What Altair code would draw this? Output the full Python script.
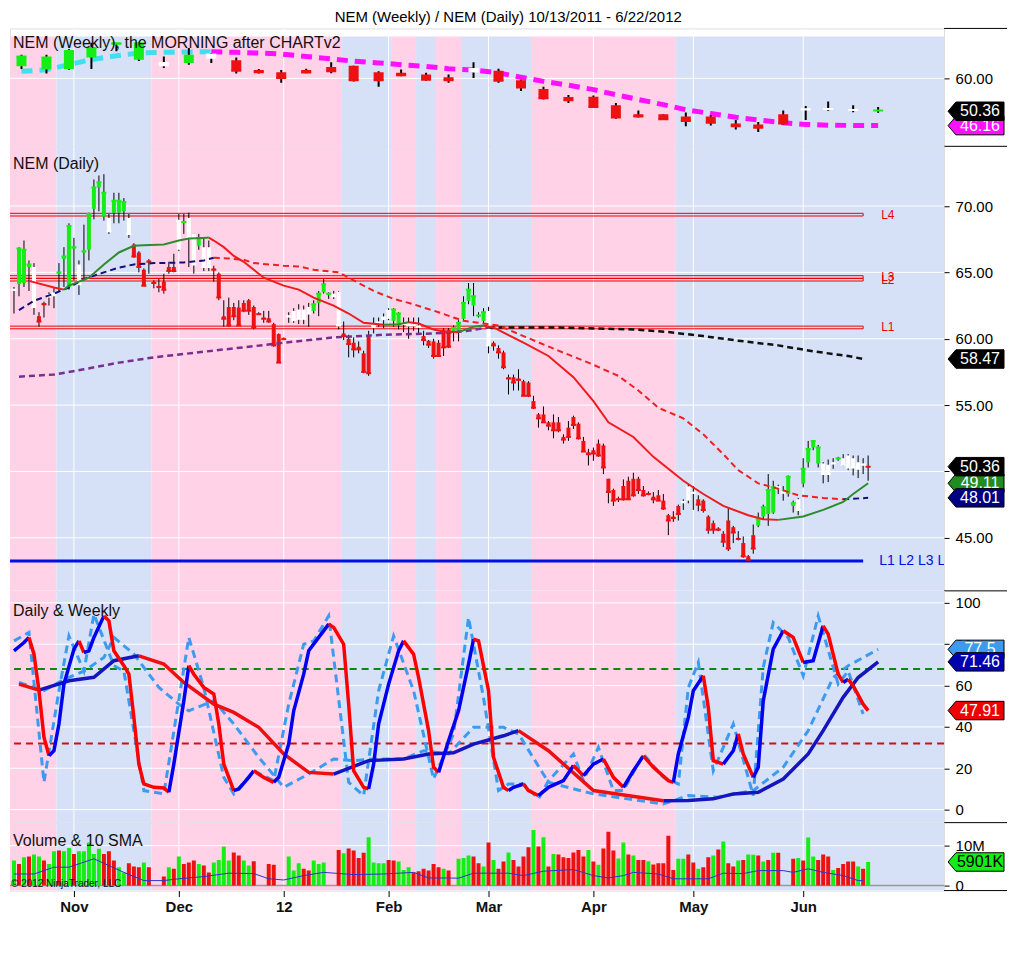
import altair as alt
import pandas as pd

FONT = "Liberation Sans"
TITLE = "NEM (Weekly) / NEM (Daily)  10/13/2011 - 6/22/2012"

# ---------------- daily bars (bar index 1..172) ----------------
d_idx = list(range(1, 173))
d_open = [63.6, 64.1, 64.2, 65.4, 65.4, 61.7, 62.7, 63.1, 63.2, 64.9,
          66.0, 63.9, 66.8, 65.6, 66.5, 66.7, 69.8, 71.4, 69.2, 69.1,
          69.5, 69.5, 69.6, 69.1, 67.1, 66.5, 65.2, 65.9, 64.3, 64.0,
          64.3, 65.4, 65.4, 66.7, 68.7, 69.1, 67.9, 67.0, 66.9, 66.9,
          65.3, 64.9, 61.7, 62.4, 62.4, 62.35, 62.7, 62.9, 62.4, 61.9,
          61.6, 61.55, 61.1, 60.35, 60.0, 61.6, 62.1, 62.2, 62.2, 62.4,
          62.1, 62.7, 63.5, 63.3, 63.4, 63.55, 60.4, 60.0, 59.7, 59.4,
          58.9, 60.2, 60.8, 61.3, 61.4, 61.5, 61.35, 61.0, 61.2, 61.2,
          61.1, 61.0, 60.2, 59.85, 59.8, 59.7, 60.7, 60.7, 60.5, 60.6,
          61.5, 62.85, 62.5, 61.7, 61.35, 62.1, 59.7, 59.3, 58.97, 57.1,
          57.1, 57.0, 56.8, 56.7, 55.3, 54.3, 54.3, 53.7, 53.7, 53.7,
          52.6, 53.3, 54.1, 53.6, 52.3, 51.45, 51.6, 52.1, 51.96, 49.45,
          48.6, 47.95, 48.9, 49.3, 49.45, 49.45, 48.6, 48.3, 48.1, 48.2,
          47.8, 46.7, 46.6, 47.4, 47.6, 47.8, 48.3, 47.9, 47.8, 46.6,
          46.1, 45.7, 45.3, 46.3, 45.8, 45.0, 44.6, 43.6, 45.2, 45.9,
          46.6, 46.8, 46.9, 48.7, 48.5, 48.3, 47.4, 47.9, 49.1, 50.7,
          51.8, 50.6, 50.6, 50.5, 50.7, 50.9, 51.0, 51.2, 51.0, 50.7,
          50.6, 50.4]
d_high = [63.9, 66.9, 67.4, 65.9, 65.7, 62.0, 62.8, 63.5, 63.9, 65.7,
          66.9, 68.7, 67.6, 65.9, 68.6, 69.5, 72.0, 72.3, 72.4, 69.4,
          71.0, 71.0, 70.6, 69.4, 67.2, 66.6, 65.3, 66.0, 64.4, 64.5,
          64.9, 65.8, 66.4, 69.4, 69.4, 69.5, 67.9, 67.9, 67.6, 67.4,
          65.5, 65.0, 62.9, 63.1, 62.7, 62.9, 62.9, 63.0, 62.5, 62.0,
          62.1, 62.1, 61.2, 60.4, 60.1, 62.0, 62.3, 62.6, 62.5, 62.7,
          62.9, 63.6, 64.5, 63.5, 63.6, 63.6, 61.3, 60.3, 60.1, 59.8,
          59.1, 60.6, 61.6, 61.6, 61.9, 62.3, 62.3, 62.0, 61.6, 61.6,
          61.6, 61.6, 60.6, 59.9, 60.0, 59.9, 60.8, 60.8, 61.0, 61.4,
          63.2, 64.2, 64.2, 62.0, 62.3, 62.4, 59.8, 59.5, 59.1, 57.3,
          57.3, 57.7, 56.9, 56.8, 55.7, 54.4, 54.9, 53.8, 54.3, 54.1,
          52.8, 53.8, 54.2, 53.7, 52.6, 51.7, 51.8, 52.4, 52.1, 49.45,
          48.7, 48.1, 49.4, 49.6, 49.9, 49.6, 48.9, 48.5, 48.45, 48.6,
          48.3, 46.8, 47.0, 47.5, 47.9, 49.0, 48.9, 48.2, 47.9, 46.7,
          46.3, 45.8, 45.5, 47.3, 45.9, 45.5, 45.1, 43.7, 46.0, 46.9,
          47.5, 49.8, 49.3, 49.0, 48.9, 49.7, 47.8, 48.0, 51.0, 52.3,
          52.3, 52.0, 50.7, 50.9, 51.0, 51.1, 51.3, 51.3, 51.2, 51.2,
          51.0, 51.2]
d_low = [61.9, 63.2, 63.9, 63.6, 61.8, 60.9, 61.6, 62.5, 62.3, 63.6,
         63.9, 63.7, 64.4, 63.3, 64.4, 65.9, 69.0, 69.6, 68.9, 67.9,
         68.7, 68.7, 68.9, 67.6, 66.1, 65.0, 64.0, 64.9, 63.8, 63.5,
         63.4, 64.9, 65.0, 66.6, 67.9, 65.4, 64.9, 66.7, 65.1, 65.1,
         64.3, 62.9, 60.9, 60.9, 61.4, 60.98, 62.0, 61.8, 60.7, 61.8,
         61.2, 61.2, 59.4, 58.2, 59.9, 61.2, 61.2, 61.1, 61.1, 60.9,
         61.9, 61.7, 63.4, 63.0, 63.0, 60.7, 59.9, 58.6, 58.6, 58.9,
         57.4, 57.2, 60.4, 60.9, 60.8, 61.4, 60.9, 60.7, 60.5, 60.0,
         60.6, 60.4, 59.5, 59.3, 58.5, 58.7, 58.7, 59.3, 59.8, 59.8,
         61.4, 62.6, 61.7, 61.6, 61.1, 58.9, 59.1, 58.5, 57.7, 55.8,
         56.1, 56.1, 55.7, 55.6, 54.7, 53.3, 53.7, 53.1, 52.5, 52.95,
         52.1, 52.3, 53.2, 52.4, 51.5, 50.45, 50.8, 51.1, 49.8, 47.6,
         47.4, 47.7, 47.8, 47.9, 48.1, 48.3, 48.1, 48.2, 47.6, 47.8,
         47.1, 45.2, 46.2, 46.3, 47.1, 47.6, 47.1, 47.0, 46.9, 45.3,
         45.3, 45.5, 44.3, 44.0, 44.6, 44.8, 43.5, 43.3, 43.8, 45.8,
         46.4, 45.9, 46.8, 48.3, 47.8, 48.1, 46.9, 46.7, 48.8, 50.3,
         51.6, 50.3, 49.1, 49.2, 50.2, 50.8, 50.4, 50.1, 49.7, 49.5,
         49.8, 49.3]
d_close = [63.7, 66.8, 66.7, 65.6, 62.4, 61.3, 62.6, 63.3, 63.4, 65.0,
           66.2, 68.5, 66.9, 64.1, 66.6, 69.4, 71.4, 71.8, 71.0, 68.1,
           70.4, 70.4, 70.3, 67.9, 66.2, 65.4, 64.0, 65.8, 64.2, 63.9,
           63.7, 65.1, 65.1, 68.9, 68.8, 67.6, 65.6, 67.6, 65.4, 65.4,
           65.2, 63.1, 61.5, 61.0, 61.7, 61.0, 62.1, 62.1, 60.85, 61.85,
           61.5, 61.3, 59.5, 58.2, 59.97, 61.7, 61.4, 61.5, 61.5, 61.9,
           62.6, 63.4, 64.1, 63.4, 63.2, 61.0, 60.2, 59.6, 59.2, 59.2,
           57.5, 57.4, 61.0, 61.2, 61.6, 62.1, 62.2, 61.9, 61.1, 61.0,
           61.0, 60.9, 59.9, 59.55, 58.7, 58.7, 59.35, 59.4, 60.8, 61.2,
           62.7, 63.7, 63.2, 61.75, 62.0, 59.5, 59.5, 58.97, 57.85, 57.0,
           56.7, 56.9, 55.7, 55.7, 54.8, 54.0, 53.7, 53.45, 53.1, 53.1,
           52.4, 52.6, 53.5, 52.5, 51.5, 51.3, 51.35, 51.2, 50.3, 48.45,
           47.8, 47.9, 47.9, 47.9, 48.2, 48.6, 48.2, 48.3, 47.9, 47.8,
           47.2, 46.3, 46.5, 46.8, 47.7, 48.8, 48.4, 47.5, 47.1, 45.6,
           45.6, 45.6, 44.7, 44.2, 45.4, 44.9, 43.6, 43.35, 44.2, 46.4,
           47.3, 48.6, 48.8, 48.8, 48.4, 49.6, 47.6, 47.1, 50.2, 51.7,
           52.3, 51.8, 49.8, 49.8, 50.6, 51.0, 50.5, 50.3, 50.3, 50.2,
           50.5, 50.36]
d_col = list("wgggwrrwwg" "gggwgggggw" "gggwrrrrrr" "rrrwgwwgww" "rrrrrrrrrr"
             "rrrrrwwwww" "ggggwwrrrr" "rrwwwwggww" "wwrrrrrrgg" "gggggwrrrr"
             "rrrrrrrrrr" "rrrrrrrrrr" "rrrrrrrrrr" "rrrrwwwrrr" "rrrrrrrrrg"
             "gggwwggwgg" "ggwwwgwwww" "wr")

# daily volume (millions) and bar colours
vol = [6.25, 5.4, 7.1, 7.25, 7.75, 7.25, 6.25, 5.4, 8.6, 8.75,
       8.6, 9.4, 7.9, 8.6, 8.6, 10.8, 7.9, 9.2, 7.9, 8.6,
       6.25, 4.6, 3.3, 5.6, 4.75, 4.6, 5.8, 4.6, 3.0, 3.5,
       2.25, 4.6, 4.2, 7.25, 5.4, 5.8, 6.25, 5.4, 5.0, 3.3,
       5.8, 6.4, 9.75, 6.25, 8.3, 7.5, 6.25, 5.0, 6.1, 3.0,
       3.2, 5.4, 5.2, 3.0, 2.5, 7.25, 3.75, 5.6, 4.2, 3.75,
       6.25, 5.4, 5.8, 3.0, 3.0, 8.9, 8.1, 9.25, 8.75, 6.9,
       8.2, 12.1, 5.8, 5.6, 5.6, 6.4, 6.25, 6.0, 3.9, 4.6,
       3.3, 3.6, 4.2, 3.75, 5.4, 4.6, 4.2, 3.75, 3.0, 6.7,
       6.9, 7.5, 7.25, 5.6, 4.75, 10.8, 6.4, 4.2, 6.0, 8.3,
       6.4, 4.75, 7.25, 9.6, 13.9, 9.75, 12.1, 4.75, 7.9, 7.75,
       7.1, 6.9, 8.3, 8.9, 7.25, 8.9, 6.0, 5.2, 9.25, 13.5,
       8.75, 6.75, 10.75, 7.75, 7.5, 6.4, 6.4, 6.1, 5.25, 5.6,
       5.6, 12.5, 3.9, 6.7, 6.7, 7.75, 5.8, 4.2, 4.6, 7.1,
       7.5, 9.0, 11.0, 5.6, 4.75, 6.25, 6.4, 7.75, 7.7, 7.5,
       6.0, 6.4, 8.2, 8.2, 3.0, 3.0, 6.7, 6.9, 6.25, 12.0,
       7.25, 6.4, 7.75, 7.25, 3.9, 4.4, 5.4, 6.0, 6.0, 4.75,
       4.2, 5.9]
vol_col = list("grgrggrggr" "ggrgggggrr" "rggrrrgrww" "rgrgrrrgrr" "ggggrrggrw"
               "wrrwwgggrr" "gggwwrgrrr" "rggggrrggg" "rrrrrrgrwg" "ggrrgrgrrg"
               "rrrrgrgrgr" "rrrrrgrgrr" "rggrgrrgrr" "rrrggrrgrr" "grgrrgrggr"
               "grgrwwrgrg" "grrrgrrrrg" "rg")
vsma_x = [1, 5, 9, 12, 17, 20, 23, 27, 31, 34, 39, 44, 49, 52, 55, 59, 63, 69, 75, 81,
          84, 88, 90, 93, 100, 103, 107, 113, 117, 120, 123, 125, 130, 133, 140, 143,
          147, 150, 155, 157, 160, 163, 167, 170, 171]
vsma_v = [2.9, 2.9, 4.6, 4.6, 6.7, 5.0, 3.3, 1.25, 1.25, 1.7, 2.25, 3.1, 3.0, 1.7, 1.4,
          2.5, 3.3, 2.75, 2.9, 3.3, 1.9, 1.9, 1.85, 3.1, 3.1, 2.5, 3.6, 4.0, 2.5, 1.9,
          2.5, 3.3, 2.9, 1.7, 1.7, 3.1, 3.0, 3.75, 3.75, 3.3, 4.2, 3.3, 2.5, 1.25, 1.25]

# ---------------- weekly bars ----------------
w_x = [2.5, 7.5, 12, 16.5, 21.5, 26, 31, 36, 40.5, 45.5, 50, 54.5, 59.5, 64.5, 69, 74,
       78.5, 83.5, 88, 93, 98, 102.5, 107, 112, 117, 121.5, 126, 131, 135.5, 140.5,
       145.5, 150, 155, 159.5, 164, 169, 174]
w_open = [63.5, 62.6, 62.7, 66.1, 69.8, 65.4, 63.5, 64.5, 65.7, 65.3, 62.4, 61.8, 62.4,
          63.3, 63.7, 61.8, 61.6, 61.1, 60.3, 61.7, 62.2, 59.4, 56.9, 54.5, 54.6, 52.1,
          49.5, 49.5, 48.8, 48.8, 46.8, 46.5, 49.5, 51.2, 51.3, 51.0, 50.4]
w_high = [66.9, 66.9, 68.5, 70.4, 70.4, 70.4, 66.4, 68.9, 67.4, 66.1, 62.7, 62.4, 62.8,
          64.7, 63.7, 62.1, 62.6, 61.6, 61.1, 64.7, 62.8, 59.6, 57.5, 55.1, 55.0, 52.8,
          50.6, 49.5, 50.0, 49.2, 47.8, 47.2, 50.6, 51.9, 53.2, 52.1, 51.6]
w_low = [62.7, 61.4, 62.5, 62.7, 67.9, 65.1, 63.0, 64.0, 64.5, 61.4, 61.4, 58.7, 61.5,
         61.5, 59.1, 57.5, 60.6, 59.3, 58.7, 60.1, 58.7, 56.3, 53.8, 52.8, 51.4, 48.2,
         48.5, 47.8, 46.0, 46.2, 45.0, 44.3, 46.5, 47.8, 50.5, 50.1, 49.9]
w_close = [66.4, 66.1, 68.0, 68.9, 70.3, 70.3, 64.5, 66.6, 67.0, 62.2, 61.8, 60.1, 61.7,
           62.1, 59.4, 59.4, 60.9, 59.6, 59.4, 62.7, 59.3, 57.3, 54.2, 53.6, 51.6, 48.5,
           48.8, 48.0, 47.5, 47.0, 46.0, 45.5, 46.8, 50.9, 51.0, 50.7, 50.6]
w_col = list("gggggg" "w" "g" "w" "rrrrrrrrrr" "w" "rrrrrrrrrrrrr" "www" "g")
w_ma = [62.05, 62.5, 64.0, 65.5, 66.6, 67.4, 67.6, 67.7, 67.8, 67.6, 67.4, 67.1, 66.4,
        65.7, 65.0, 64.5, 64.0, 63.5, 62.8, 62.4, 61.6, 60.3, 59.1, 58.0, 56.7, 55.2,
        53.8, 52.3, 50.8, 49.7, 48.6, 47.8, 47.0, 46.5, 46.3, 46.2, 46.16]

# ---------------- daily moving averages ----------------
fast_x = [4, 9, 11, 12, 16, 19, 22, 25, 27, 31, 34, 36, 39, 40, 41, 43, 45, 47, 48, 51,
          55, 58, 61, 65, 68, 71, 75, 78, 80, 82, 85, 87, 90, 93, 95, 97, 103, 108, 113,
          117, 120, 125, 129, 135, 139, 143, 148, 151, 154, 159, 163, 167, 169, 172]
fast_v = [64.36, 63.86, 63.7, 64.0, 64.6, 65.6, 66.5, 67.0, 67.05, 67.1, 67.4, 67.55,
          67.6, 67.62, 67.4, 66.9, 66.24, 65.8, 65.5, 64.6, 64.0, 63.7, 63.1, 62.5, 61.9,
          61.2, 61.05, 61.1, 61.25, 61.15, 60.7, 60.55, 60.5, 60.9, 61.0, 60.85, 59.7,
          58.7, 57.1, 55.3, 53.7, 52.6, 51.1, 49.3, 48.3, 47.4, 46.7, 46.4, 46.35, 46.6,
          47.1, 47.7, 48.3, 49.11]
med_x = [2, 5, 9, 12, 15, 19, 22, 25, 29, 32, 35, 39, 41, 44, 47, 49, 55, 58, 61, 66,
         69, 73, 77, 81, 83, 86, 89, 91, 95, 98, 103, 110, 116, 122, 126, 130, 135, 139,
         143, 146, 150, 154, 158, 163, 167, 172]
med_v = [62.16, 62.86, 63.4, 63.86, 64.5, 65.0, 65.36, 65.6, 65.7, 65.72, 65.75, 65.9,
         66.1, 66.05, 65.95, 65.7, 65.5, 65.45, 65.2, 65.0, 64.4, 63.6, 63.0, 62.6, 62.35,
         62.0, 61.6, 61.35, 61.15, 61.0, 60.2, 59.1, 58.2, 57.2, 56.1, 54.8, 54.0, 52.8,
         51.3, 50.1, 49.1, 48.7, 48.2, 48.0, 47.9, 48.01]
slow_x = [2, 9, 15, 22, 29, 35, 42, 47, 55, 65, 75, 85, 91, 96, 110, 125, 132, 139, 146,
          154, 161, 168, 171]
slow_v = [57.14, 57.3, 57.7, 58.2, 58.6, 58.85, 59.15, 59.35, 59.7, 60.1, 60.3, 60.4,
          60.55, 60.85, 60.84, 60.7, 60.5, 60.2, 59.85, 59.5, 59.05, 58.7, 58.47]

# price levels
lvl_name = ["L4", "L3", "L2", "L1"]
lvl_price = [69.35, 64.65, 64.45, 60.85]
blue_level = 43.25

# ---------------- oscillator (Daily & Weekly) ----------------
osd_x = [1, 3, 4, 5, 6, 7, 8, 9, 10, 11, 13, 14, 15, 16, 17, 19, 20, 21, 23, 24,
         25, 26, 27, 29, 31, 32, 33, 35, 36, 37, 39, 41, 42, 43, 45, 46, 48, 49, 51, 53,
         54, 56, 57, 59, 60, 62, 64, 65, 67, 68, 69, 71, 72, 73, 74, 76, 78, 79, 81, 82,
         84, 85, 86, 88, 90, 92, 93, 94, 96, 97, 99, 100, 101, 103, 104, 106, 108, 111,
         113, 115, 117, 119, 121, 123, 125, 127, 129, 132, 133, 134, 136, 137, 139, 140,
         141, 143, 145, 146, 147, 149, 150, 151, 153, 155, 157, 159, 161, 163, 164, 166,
         167, 168, 169, 171, 172]
osd_v = [76.8, 80.8, 83.3, 75.2, 57.5, 35, 26.1, 28.5, 41.4, 60.7,
         77.6, 81.6, 76, 76.8, 83.3, 93.7, 91.3, 76.8, 69.6, 65.5,
         44.6, 22, 12.4, 10.8, 10.5, 8.4, 22, 52.6, 69.6, 65.5,
         59.1, 55.9, 41.4, 22, 9.2, 10, 15.6, 18.8, 15.6, 13.2,
         15.6, 31.7, 47.8, 65.5, 76.8, 83.3, 89.7, 88.1, 80, 51,
         18.8, 10.8, 10, 22, 41.4, 60.7, 76.8, 81.6, 75.2, 63.9,
         38.2, 20.5, 18, 33.3, 47.8, 70.4, 82.4, 81.6, 57.5, 25.3,
         10.8, 9.2, 10.8, 12.4, 9.2, 6.8, 10.8, 14, 21.3, 16.4,
         22, 24.5, 15.6, 10.8, 18.8, 26, 20.5, 14, 13.2, 26.9,
         44.6, 57.5, 64.7, 49.4, 23.7, 22, 28.5, 36.6, 26.9, 15.6,
         20.5, 52.6, 77.6, 86.5, 83.3, 71.2, 72, 88.9, 84.9, 65.5,
         61.5, 63.1, 59.9, 51, 47.91]
osl_x = [1, 4, 7, 10, 12, 15, 17, 21, 23, 27, 31, 36, 39, 43, 45, 49, 53, 56, 59, 61,
         64, 68, 71, 74, 77, 81, 85, 89, 92, 95, 98, 100, 103, 106, 108, 113, 115, 118,
         121, 123, 127, 131, 134, 136, 138, 141, 145, 149, 151, 153, 156, 159, 162, 166,
         168, 171]
osl_v = [81.6, 85.7, 13.2, 57.5, 84, 67, 94.5, 69.6, 67, 9.2,
         7.6, 83.3, 59, 15.6, 7.6, 18.8, 14, 51, 80, 81.6,
         93.7, 13.2, 6.8, 57.5, 84, 57.5, 14.8, 36.6, 92.9, 54,
         9.2, 12.4, 12.4, 5.2, 14, 26.9, 14, 30.1, 9.2, 9.2,
         26.9, 15.6, 12.4, 59, 71.2, 18.8, 41.4, 6.8, 68.8, 90.5,
         83.3, 64.7, 93.7, 60.7, 67, 46.2]
ows_x = [2, 6, 12, 17, 21, 26, 31, 35, 41, 45, 50, 55, 60, 65, 72, 79, 84, 89, 93, 99,
         102, 108, 117, 131, 136, 141, 145, 150, 155, 160, 163, 167, 170, 174]
ows_v = [60.7, 57.8, 62.3, 64, 72, 74.4, 70.4, 61.5, 51, 47, 39.8, 26.9, 18, 17.2, 23.7,
         24.5, 26.9, 27.5, 31.7, 35.7, 38.2, 28.5, 9.2, 4.3, 4.4, 5.2, 7.6, 8.4, 14.8,
         26.9, 38.2, 54.3, 63.9, 71.46]
owd_x = [2, 7, 11, 15, 19, 21, 25, 30, 34, 36, 41, 45, 50, 55, 60, 65, 69, 73, 79, 83,
         88, 93, 99, 102, 108, 117, 131, 136, 142, 149, 155, 160, 165, 168, 174]
owd_v = [61.5, 57.5, 63, 67, 73.6, 83.3, 75.2, 59.1, 51, 47.8, 52.7, 41.4, 25.3, 10.8,
         17.2, 24.5, 23.7, 24.5, 24.5, 28.5, 26.9, 39.8, 39.8, 36.6, 13.2, 7.6, 2.7, 6.8,
         6, 9.2, 20.5, 38.2, 63.9, 69.6, 77.5]
osc_hi, osc_lo = 68, 32

# ---------------- background trend bands & months ----------------
band_start = [-2, 9.5, 28.5, 66.5, 76.5, 81.5, 85.5, 90.5, 104.5, 133.5]
band_end = [9.5, 28.5, 66.5, 76.5, 81.5, 85.5, 90.5, 104.5, 133.5, 190]
band_kind = ["p", "b", "p", "b", "p", "b", "p", "b", "p", "b"]
month_idx = [13, 34, 55, 76, 96, 117, 137, 159]
month_lab = ["Nov", "Dec", "12", "Feb", "Mar", "Apr", "May", "Jun"]

for a, b in [(d_open, d_idx), (d_high, d_idx), (d_low, d_idx), (d_close, d_idx),
             (d_col, d_idx), (vol, d_idx), (vol_col, d_idx), (vsma_v, vsma_x),
             (w_open, w_x), (w_high, w_x), (w_low, w_x), (w_close, w_x), (w_col, w_x),
             (w_ma, w_x), (fast_v, fast_x), (med_v, med_x), (slow_v, slow_x),
             (osd_v, osd_x), (osl_v, osl_x), (ows_v, ows_x), (owd_v, owd_x)]:
    assert len(a) == len(b), (len(a), len(b))

# ---------------- styling ----------------
W = 935
H1, H2, H3, H4 = 118, 445, 232, 68
BAND_C = {"p": "#FFD2E8", "b": "#D6E0F6"}
CANDLE_C = {"g": "#14EE14", "r": "#EE1111", "w": "#FFFFFF"}
VOL_C = {"g": "#14EE14", "r": "#EE1111", "w": "rgba(0,0,0,0)"}
xs = alt.Scale(domain=[0.2, 187.2], nice=False, zero=False, padding=0)
BOX = "M-1,0L-0.72,-0.33L1,-0.33L1,0.33L-0.72,0.33Z"

lab_expr = " : ".join(f"datum.value == {m} ? '{l}'" for m, l in zip(month_idx, month_lab)) + " : ''"
XAX4 = alt.Axis(values=month_idx, labelExpr=lab_expr, title=None, grid=False, domain=False,
                tickSize=6, tickColor="black", labelFontSize=15, labelFont=FONT,
                labelFontWeight="bold", labelColor="#111111", labelPadding=3,
                labelFlush=False, labelOverlap=False)


def yaxis(vals, fmt=None, expr=None):
    kw = dict(orient="right", values=vals, title=None, grid=False, domain=False,
              tickSize=5, tickColor="black", labelFontSize=15, labelFont=FONT,
              labelColor="black", labelPadding=6, labelFlush=False, labelOverlap=False)
    if fmt:
        kw["format"] = fmt
    if expr:
        kw["labelExpr"] = expr
    return alt.Axis(**kw)


def runs(xv, vv, up, down):
    rows, run, cur = [], -1, None
    for k in range(len(xv) - 1):
        c = up if vv[k + 1] >= vv[k] else down
        if c != cur:
            run += 1
            cur = c
            rows.append((xv[k], vv[k], run, c, 2 * k))
        rows.append((xv[k + 1], vv[k + 1], run, c, 2 * k + 1))
    return pd.DataFrame(rows, columns=["x", "v", "run", "c", "o"])


class Panel:
    def __init__(self, h, ys, yax, xax=None):
        self.h, self.ys, self.yax, self.xax = h, ys, yax, xax

    def X(self, f):
        return alt.X(f"{f}:Q", scale=xs, axis=self.xax)

    def Y(self, f):
        return alt.Y(f"{f}:Q", scale=self.ys, axis=self.yax)

    def bands(self, top=0):
        df = pd.DataFrame(dict(s=band_start, e=band_end,
                               c=[BAND_C[k] for k in band_kind]))
        return alt.Chart(df).mark_rect(clip=True).encode(
            x=self.X("s"), x2=alt.X2("e:Q"), y=alt.value(top), y2=alt.value(self.h),
            color=alt.Color("c:N", scale=None))

    def grid(self, yvals):
        v = alt.Chart(pd.DataFrame(dict(m=month_idx))).mark_rule(
            color="white", strokeWidth=1, clip=True).encode(x=self.X("m"))
        hz = alt.Chart(pd.DataFrame(dict(g=yvals))).mark_rule(
            color="white", strokeWidth=1, clip=True).encode(y=self.Y("g"))
        return [v, hz]

    def dirline(self, xv, vv, up, down, width, dash=None):
        m = dict(strokeWidth=width, clip=True)
        if dash:
            m["strokeDash"] = dash
        return alt.Chart(runs(xv, vv, up, down)).mark_line(**m).encode(
            x=self.X("x"), y=self.Y("v"), detail="run:N", order="o:Q",
            color=alt.Color("c:N", scale=None))

    def label(self, txt, y, size=16, x=3, color="#111111"):
        return alt.Chart(pd.DataFrame(dict(t=[txt]))).mark_text(
            align="left", baseline="middle", fontSize=size, font=FONT, color=color).encode(
            x=alt.value(x), y=alt.value(y), text="t:N")

    def box(self, v, fill, tcol="white"):
        df = pd.DataFrame(dict(v=[v], t=["%g" % v]))
        return self._box(df, fill, tcol)

    def _box(self, df, fill, tcol):
        shp = alt.Chart(df).mark_point(shape=BOX, size=3136, filled=True, fill=fill,
                                       stroke="black", strokeWidth=1, opacity=1).encode(
            x=alt.value(W + 32), y=self.Y("v"))
        tx = alt.Chart(df).mark_text(fontSize=16, font=FONT, color=tcol, align="center",
                                     baseline="middle").encode(
            x=alt.value(W + 36), y=self.Y("v"), text="t:N")
        return [shp, tx]

    def sep(self, y):
        return alt.Chart(pd.DataFrame(dict(a=[0]))).mark_rule(color="black", strokeWidth=1).encode(
            x=alt.value(W), x2=alt.value(W + 63), y=alt.value(y))


def candles(P, df, body, wick_w, tick_len):
    df = df.assign(col=[CANDLE_C[k] for k in df["k"]])
    wick = alt.Chart(df).mark_rule(color="black", strokeWidth=wick_w, clip=True).encode(
        x=P.X("i"), y=P.Y("l"), y2=alt.Y2("h:Q"))
    bod = alt.Chart(df).mark_bar(size=body, clip=True, opacity=1).encode(
        x=P.X("i"), y=P.Y("o"), y2=alt.Y2("c:Q"), color=alt.Color("col:N", scale=None))
    tk = alt.Chart(df).mark_tick(orient="horizontal", size=tick_len, thickness=2, opacity=1,
                                 clip=True).encode(
        x=P.X("i"), y=P.Y("c"), color=alt.Color("col:N", scale=None))
    return [wick, bod, tk]


# ---------------- panel 1 : weekly ----------------
P1 = Panel(H1, alt.Scale(domain=[40.1, 74.6], nice=False, zero=False, padding=0),
           yaxis([60], fmt=".2f"))
wdf = pd.DataFrame(dict(i=w_x, o=w_open, h=w_high, l=w_low, c=w_close, k=w_col))
p1_layers = [P1.bands(top=8)] + P1.grid([60]) + \
    [P1.dirline(w_x, w_ma, "#3FDFEF", "#FF10FF", 5, [11, 7])] + \
    candles(P1, wdf, 10, 2, 10) + \
    [P1.label("NEM (Weekly), the MORNING after CHARTv2", 15)] + \
    P1.box(46.16, "#FF10FF") + P1.box(50.36, "#000000") + [P1.sep(0), P1.sep(H1)]
p1 = alt.layer(*p1_layers).properties(width=W, height=H1)

# ---------------- panel 2 : daily ----------------
P2 = Panel(H2, alt.Scale(domain=[41.0, 74.5], nice=False, zero=False, padding=0),
           yaxis([45, 50, 55, 60, 65, 70],
                 expr="datum.value == 50 ? '' : format(datum.value, '.2f')"))
ddf = pd.DataFrame(dict(i=d_idx, o=d_open, h=d_high, l=d_low, c=d_close, k=d_col))
lvl_df = pd.DataFrame(dict(p=lvl_price, n=lvl_name, s=[-2] * 4, e=[171] * 4))
levels = alt.Chart(lvl_df).transform_calculate(
    lo="datum.p - 0.1", hi="datum.p + 0.1").mark_rect(
    fillOpacity=0, stroke="#EE0000", strokeWidth=1, clip=True).encode(
    x=P2.X("s"), x2=alt.X2("e:Q"), y=P2.Y("lo"), y2=alt.Y2("hi:Q"))
lvl_txt = alt.Chart(lvl_df).mark_text(align="left", baseline="middle", fontSize=12,
                                      font=FONT, color="#EE0000").encode(
    x=alt.value(W - 63), y=P2.Y("p"), text="n:N")
blue_df = pd.DataFrame(dict(p=[blue_level], s=[-2], e=[171], t=["L1 L2 L3 L4"]))
blue_line = alt.Chart(blue_df).mark_rule(color="#0010E0", strokeWidth=3, clip=True).encode(
    x=P2.X("s"), x2=alt.X2("e:Q"), y=P2.Y("p"))
blue_txt = alt.Chart(blue_df).mark_text(align="left", baseline="middle", fontSize=14,
                                        font=FONT, color="#0010E0", clip=True).encode(
    x=alt.value(W - 65), y=P2.Y("p"), text="t:N")
p2_layers = [P2.bands()] + P2.grid([45, 50, 55, 60, 65, 70]) + \
    [levels, blue_line] + candles(P2, ddf, 4, 1, 5) + \
    [P2.dirline(slow_x, slow_v, "#7A2E8E", "#111111", 2.5, [6, 4]),
     P2.dirline(med_x, med_v, "#10107A", "#EE2020", 2, [6, 4]),
     P2.dirline(fast_x, fast_v, "#2E8B2E", "#EE1C1C", 2)] + \
    [lvl_txt, blue_txt, P2.label("NEM (Daily)", 18)] + \
    P2.box(58.47, "#000000") + P2.box(49.11, "#1E8C1E") + P2.box(48.01, "#000080") + \
    P2.box(50.36, "#000000") + [P2.sep(H2)]
p2 = alt.layer(*p2_layers).properties(width=W, height=H2)

# ---------------- panel 3 : oscillator ----------------
P3 = Panel(H3, alt.Scale(domain=[-6.3, 105.8], nice=False, zero=False, padding=0),
           yaxis([0, 20, 40, 60, 80, 100], fmt="d"))
ref_df = pd.DataFrame(dict(v=[osc_hi, osc_lo], c=["#0A8A0A", "#D01010"]))
refl = alt.Chart(ref_df).mark_rule(strokeWidth=2, strokeDash=[7, 5]).encode(
    y=P3.Y("v"), color=alt.Color("c:N", scale=None))
LB = "#3D9BEF"
wdash = alt.Chart(pd.DataFrame(dict(x=owd_x, v=owd_v))).mark_line(
    color=LB, strokeWidth=3, strokeDash=[8, 5], clip=True).encode(x=P3.X("x"), y=P3.Y("v"))
ddash = alt.Chart(pd.DataFrame(dict(x=osl_x, v=osl_v))).mark_line(
    color=LB, strokeWidth=3, strokeDash=[8, 5], clip=True).encode(x=P3.X("x"), y=P3.Y("v"))
p3_layers = [P3.bands()] + P3.grid([0, 20, 40, 60, 80, 100]) + [refl, wdash, ddash] + \
    [P3.dirline(ows_x, ows_v, "#1414C0", "#EE1010", 3.5),
     P3.dirline(osd_x, osd_v, "#0000F0", "#FF0000", 3.5),
     P3.label("Daily & Weekly", 20)] + \
    P3.box(77.5, LB) + P3.box(71.46, "#0000B0") + P3.box(47.91, "#EE0000") + [P3.sep(H3)]
p3 = alt.layer(*p3_layers).properties(width=W, height=H3)

# ---------------- panel 4 : volume ----------------
P4 = Panel(H4, alt.Scale(domain=[-1.25, 15.75], nice=False, zero=False, padding=0),
           yaxis([0, 10], expr="datum.value == 10 ? '10M' : '0'"), xax=XAX4)
vdf = pd.DataFrame(dict(i=d_idx, v=vol, col=[VOL_C[k] for k in vol_col]))
vbars = alt.Chart(vdf).transform_calculate(z="0").mark_bar(size=4, clip=True, opacity=1).encode(
    x=P4.X("i"), y=P4.Y("v"), y2=alt.Y2("z:Q"), color=alt.Color("col:N", scale=None))
zero = alt.Chart(pd.DataFrame(dict(v=[0]))).mark_rule(color="#999999", strokeWidth=1.5).encode(
    y=P4.Y("v"))
vsma = alt.Chart(pd.DataFrame(dict(x=vsma_x, v=vsma_v))).mark_line(
    color="#3030CC", strokeWidth=1, clip=True).encode(x=P4.X("x"), y=P4.Y("v"))
vbox = pd.DataFrame(dict(v=[5.901], t=["5901K"]))
p4_layers = [P4.bands()] + P4.grid([0, 10]) + [zero, vbars, vsma,
                                               P4.label("Volume & 10 SMA", 18),
                                               P4.label("\u00a9 2012 NinjaTrader, LLC", H4 - 7, size=10, x=1)] + \
    P4._box(vbox, "#14EE14", "black") + [P4.sep(H4)]
p4 = alt.layer(*p4_layers).properties(width=W, height=H4)

chart = alt.vconcat(p1, p2, p3, p4, spacing=0, bounds="flush").properties(
    title=alt.Title(TITLE, fontSize=15, font=FONT, fontWeight="normal", anchor="middle",
                    offset=2, color="black"),
    padding={"top": 2, "left": 0, "right": 0, "bottom": 0},
).configure_view(stroke="black", strokeWidth=1).configure(font=FONT)

chart.save("out.html", embed_options={"renderer": "svg", "actions": False})
